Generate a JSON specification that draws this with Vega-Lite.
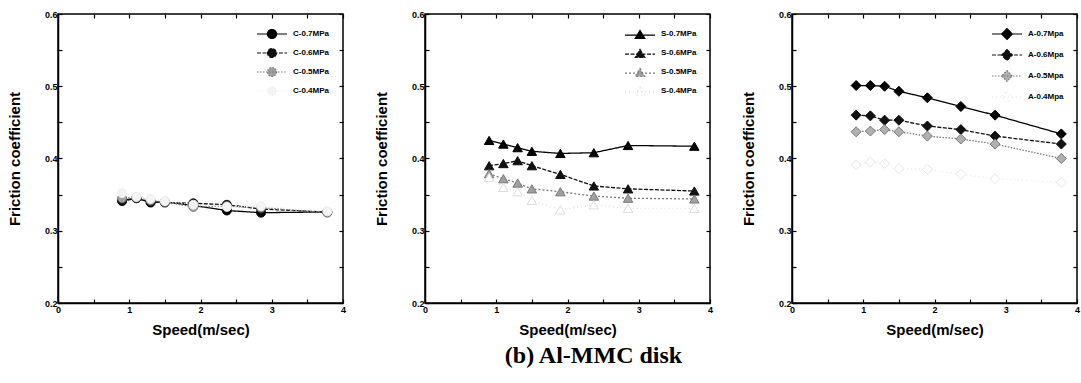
{
  "$schema": "https://vega.github.io/schema/vega-lite/v6.json",
  "padding": {"left": 6, "top": 9, "right": 0, "bottom": 0},
  "background": "white",
  "title": {"text": "(b) Al-MMC disk", "orient": "bottom", "anchor": "middle", "font": "Liberation Serif", "fontSize": 24, "fontWeight": "bold", "color": "black", "offset": 6, "dx": 50},
  "datasets": {
    "fric": [
      {"p": "C", "s": "C-0.7MPa", "v": 0.9, "f": 0.342}, {"p": "C", "s": "C-0.7MPa", "v": 1.1, "f": 0.345}, {"p": "C", "s": "C-0.7MPa", "v": 1.3, "f": 0.339}, {"p": "C", "s": "C-0.7MPa", "v": 1.5, "f": 0.340}, {"p": "C", "s": "C-0.7MPa", "v": 1.9, "f": 0.335}, {"p": "C", "s": "C-0.7MPa", "v": 2.37, "f": 0.328}, {"p": "C", "s": "C-0.7MPa", "v": 2.85, "f": 0.325}, {"p": "C", "s": "C-0.7MPa", "v": 3.78, "f": 0.326},
      {"p": "C", "s": "C-0.6MPa", "v": 0.9, "f": 0.341}, {"p": "C", "s": "C-0.6MPa", "v": 1.1, "f": 0.345}, {"p": "C", "s": "C-0.6MPa", "v": 1.3, "f": 0.340}, {"p": "C", "s": "C-0.6MPa", "v": 1.5, "f": 0.339}, {"p": "C", "s": "C-0.6MPa", "v": 1.9, "f": 0.338}, {"p": "C", "s": "C-0.6MPa", "v": 2.37, "f": 0.336}, {"p": "C", "s": "C-0.6MPa", "v": 2.85, "f": 0.330}, {"p": "C", "s": "C-0.6MPa", "v": 3.78, "f": 0.326},
      {"p": "C", "s": "C-0.5MPa", "v": 0.9, "f": 0.345}, {"p": "C", "s": "C-0.5MPa", "v": 1.1, "f": 0.346}, {"p": "C", "s": "C-0.5MPa", "v": 1.3, "f": 0.342}, {"p": "C", "s": "C-0.5MPa", "v": 1.5, "f": 0.340}, {"p": "C", "s": "C-0.5MPa", "v": 1.9, "f": 0.333}, {"p": "C", "s": "C-0.5MPa", "v": 2.37, "f": 0.334}, {"p": "C", "s": "C-0.5MPa", "v": 2.85, "f": 0.332}, {"p": "C", "s": "C-0.5MPa", "v": 3.78, "f": 0.325},
      {"p": "C", "s": "C-0.4MPa", "v": 0.9, "f": 0.352}, {"p": "C", "s": "C-0.4MPa", "v": 1.1, "f": 0.347}, {"p": "C", "s": "C-0.4MPa", "v": 1.3, "f": 0.344}, {"p": "C", "s": "C-0.4MPa", "v": 1.5, "f": 0.341}, {"p": "C", "s": "C-0.4MPa", "v": 1.9, "f": 0.336}, {"p": "C", "s": "C-0.4MPa", "v": 2.37, "f": 0.333}, {"p": "C", "s": "C-0.4MPa", "v": 2.85, "f": 0.334}, {"p": "C", "s": "C-0.4MPa", "v": 3.78, "f": 0.327},
      {"p": "S", "s": "S-0.7MPa", "v": 0.9, "f": 0.425}, {"p": "S", "s": "S-0.7MPa", "v": 1.1, "f": 0.420}, {"p": "S", "s": "S-0.7MPa", "v": 1.3, "f": 0.415}, {"p": "S", "s": "S-0.7MPa", "v": 1.5, "f": 0.410}, {"p": "S", "s": "S-0.7MPa", "v": 1.9, "f": 0.407}, {"p": "S", "s": "S-0.7MPa", "v": 2.37, "f": 0.408}, {"p": "S", "s": "S-0.7MPa", "v": 2.85, "f": 0.418}, {"p": "S", "s": "S-0.7MPa", "v": 3.78, "f": 0.417},
      {"p": "S", "s": "S-0.6MPa", "v": 0.9, "f": 0.390}, {"p": "S", "s": "S-0.6MPa", "v": 1.1, "f": 0.393}, {"p": "S", "s": "S-0.6MPa", "v": 1.3, "f": 0.397}, {"p": "S", "s": "S-0.6MPa", "v": 1.5, "f": 0.390}, {"p": "S", "s": "S-0.6MPa", "v": 1.9, "f": 0.378}, {"p": "S", "s": "S-0.6MPa", "v": 2.37, "f": 0.362}, {"p": "S", "s": "S-0.6MPa", "v": 2.85, "f": 0.358}, {"p": "S", "s": "S-0.6MPa", "v": 3.78, "f": 0.355},
      {"p": "S", "s": "S-0.5MPa", "v": 0.9, "f": 0.379}, {"p": "S", "s": "S-0.5MPa", "v": 1.1, "f": 0.372}, {"p": "S", "s": "S-0.5MPa", "v": 1.3, "f": 0.366}, {"p": "S", "s": "S-0.5MPa", "v": 1.5, "f": 0.358}, {"p": "S", "s": "S-0.5MPa", "v": 1.9, "f": 0.354}, {"p": "S", "s": "S-0.5MPa", "v": 2.37, "f": 0.348}, {"p": "S", "s": "S-0.5MPa", "v": 2.85, "f": 0.345}, {"p": "S", "s": "S-0.5MPa", "v": 3.78, "f": 0.344},
      {"p": "S", "s": "S-0.4MPa", "v": 0.9, "f": 0.374}, {"p": "S", "s": "S-0.4MPa", "v": 1.1, "f": 0.360}, {"p": "S", "s": "S-0.4MPa", "v": 1.3, "f": 0.354}, {"p": "S", "s": "S-0.4MPa", "v": 1.5, "f": 0.342}, {"p": "S", "s": "S-0.4MPa", "v": 1.9, "f": 0.329}, {"p": "S", "s": "S-0.4MPa", "v": 2.37, "f": 0.336}, {"p": "S", "s": "S-0.4MPa", "v": 2.85, "f": 0.331}, {"p": "S", "s": "S-0.4MPa", "v": 3.78, "f": 0.331},
      {"p": "A", "s": "A-0.7Mpa", "v": 0.9, "f": 0.501}, {"p": "A", "s": "A-0.7Mpa", "v": 1.1, "f": 0.501}, {"p": "A", "s": "A-0.7Mpa", "v": 1.3, "f": 0.500}, {"p": "A", "s": "A-0.7Mpa", "v": 1.5, "f": 0.493}, {"p": "A", "s": "A-0.7Mpa", "v": 1.9, "f": 0.484}, {"p": "A", "s": "A-0.7Mpa", "v": 2.37, "f": 0.472}, {"p": "A", "s": "A-0.7Mpa", "v": 2.85, "f": 0.460}, {"p": "A", "s": "A-0.7Mpa", "v": 3.78, "f": 0.434},
      {"p": "A", "s": "A-0.6Mpa", "v": 0.9, "f": 0.460}, {"p": "A", "s": "A-0.6Mpa", "v": 1.1, "f": 0.459}, {"p": "A", "s": "A-0.6Mpa", "v": 1.3, "f": 0.453}, {"p": "A", "s": "A-0.6Mpa", "v": 1.5, "f": 0.453}, {"p": "A", "s": "A-0.6Mpa", "v": 1.9, "f": 0.445}, {"p": "A", "s": "A-0.6Mpa", "v": 2.37, "f": 0.440}, {"p": "A", "s": "A-0.6Mpa", "v": 2.85, "f": 0.431}, {"p": "A", "s": "A-0.6Mpa", "v": 3.78, "f": 0.420},
      {"p": "A", "s": "A-0.5Mpa", "v": 0.9, "f": 0.437}, {"p": "A", "s": "A-0.5Mpa", "v": 1.1, "f": 0.438}, {"p": "A", "s": "A-0.5Mpa", "v": 1.3, "f": 0.440}, {"p": "A", "s": "A-0.5Mpa", "v": 1.5, "f": 0.437}, {"p": "A", "s": "A-0.5Mpa", "v": 1.9, "f": 0.431}, {"p": "A", "s": "A-0.5Mpa", "v": 2.37, "f": 0.427}, {"p": "A", "s": "A-0.5Mpa", "v": 2.85, "f": 0.420}, {"p": "A", "s": "A-0.5Mpa", "v": 3.78, "f": 0.400},
      {"p": "A", "s": "A-0.4Mpa", "v": 0.9, "f": 0.391}, {"p": "A", "s": "A-0.4Mpa", "v": 1.1, "f": 0.395}, {"p": "A", "s": "A-0.4Mpa", "v": 1.3, "f": 0.393}, {"p": "A", "s": "A-0.4Mpa", "v": 1.5, "f": 0.386}, {"p": "A", "s": "A-0.4Mpa", "v": 1.9, "f": 0.385}, {"p": "A", "s": "A-0.4Mpa", "v": 2.37, "f": 0.378}, {"p": "A", "s": "A-0.4Mpa", "v": 2.85, "f": 0.372}, {"p": "A", "s": "A-0.4Mpa", "v": 3.78, "f": 0.367}
    ]
  },
  "data": {"name": "fric"},
  "config": {
    "view": {"stroke": "black", "strokeWidth": 1.5},
    "font": "Liberation Sans",
    "axis": {
      "domainColor": "black", "domainWidth": 1.5, "tickColor": "black", "tickWidth": 1.2, "tickSize": -4,
      "grid": false, "labelFont": "Liberation Sans", "labelFontWeight": "bold", "labelFontSize": 9, "labelColor": "black",
      "titleFont": "Liberation Sans", "titleFontWeight": "bold", "titleFontSize": 15, "titleColor": "black", "labelFlush": false, "labelOverlap": false
    },
    "legend": {
      "orient": "top-right", "offset": 13, "title": null, "labelFont": "Liberation Sans", "labelFontWeight": "bold", "labelFontSize": 8, "labelColor": "black",
      "symbolSize": 144, "symbolStrokeWidth": 1.2, "labelOffset": 14, "rowPadding": 5, "padding": 0
    },
    "concat": {"spacing": 82}
  },
  "bounds": "flush",
  "resolve": {"scale": {"stroke": "independent", "fill": "independent", "strokeDash": "independent"}, "legend": {"stroke": "independent", "fill": "independent", "strokeDash": "independent"}},
  "hconcat": [
    {
      "width": 285, "height": 289,
      "transform": [{"filter": "datum.p === 'C'"}],
      "layer": [
        {
          "mark": {"type": "line", "strokeWidth": 1.3},
          "encoding": {
            "x": {"field": "v", "type": "quantitative", "scale": {"domain": [0, 4], "nice": false}, "title": "Speed(m/sec)", "axis": {"values": [0, 0.5, 1, 1.5, 2, 2.5, 3, 3.5, 4], "labelExpr": "datum.value % 1 === 0 ? format(datum.value, 'd') : ''", "labelPadding": 6, "titlePadding": 8}},
            "y": {"field": "f", "type": "quantitative", "scale": {"domain": [0.2, 0.6], "nice": false, "zero": false}, "title": "Friction coefficient", "axis": {"values": [0.2, 0.25, 0.3, 0.35, 0.4, 0.45, 0.5, 0.55, 0.6], "labelExpr": "round(datum.value * 20) % 2 === 0 ? format(datum.value, '.1f') : ''", "labelPadding": 5, "titlePadding": 22}},
            "stroke": {"field": "s", "type": "nominal", "scale": {"domain": ["C-0.7MPa", "C-0.6MPa", "C-0.5MPa", "C-0.4MPa"], "range": ["#000000", "#111111", "#7a7a7a", "#eeeeee"]}, "legend": {"symbolType": "M-2.5,0H2.5M0.75,0A0.75,0.75,0,1,1,-0.75,0A0.75,0.75,0,1,1,0.75,0Z"}},
            "strokeDash": {"field": "s", "type": "nominal", "scale": {"domain": ["C-0.7MPa", "C-0.6MPa", "C-0.5MPa", "C-0.4MPa"], "range": [[1, 0], [4, 1.5], [1.5, 1.5], [1, 2]]}, "legend": {"symbolType": "M-2.5,0H2.5M0.75,0A0.75,0.75,0,1,1,-0.75,0A0.75,0.75,0,1,1,0.75,0Z"}},
            "detail": {"field": "s"}
          }
        },
        {
          "mark": {"type": "point", "shape": "circle", "size": 80, "filled": false, "strokeWidth": 1, "opacity": 1},
          "encoding": {
            "x": {"field": "v", "type": "quantitative", "axis": {"orient": "top", "labels": false, "title": null, "values": [0, 0.5, 1, 1.5, 2, 2.5, 3, 3.5, 4], "domain": false}},
            "y": {"field": "f", "type": "quantitative", "axis": {"orient": "right", "labels": false, "title": null, "values": [0.2, 0.25, 0.3, 0.35, 0.4, 0.45, 0.5, 0.55, 0.6], "domain": false}},
            "stroke": {"field": "s", "type": "nominal"},
            "fill": {"field": "s", "type": "nominal", "scale": {"domain": ["C-0.7MPa", "C-0.6MPa", "C-0.5MPa", "C-0.4MPa"], "range": ["#000000", "#111111", "#a0a0a0", "#f4f4f4"]}, "legend": {"symbolType": "M-2.5,0H2.5M0.75,0A0.75,0.75,0,1,1,-0.75,0A0.75,0.75,0,1,1,0.75,0Z"}}
          }
        }
      ],
      "resolve": {"axis": {"x": "independent", "y": "independent"}}
    },
    {
      "width": 285, "height": 289,
      "transform": [{"filter": "datum.p === 'S'"}],
      "layer": [
        {
          "mark": {"type": "line", "strokeWidth": 1.3},
          "encoding": {
            "x": {"field": "v", "type": "quantitative", "scale": {"domain": [0, 4], "nice": false}, "title": "Speed(m/sec)", "axis": {"values": [0, 0.5, 1, 1.5, 2, 2.5, 3, 3.5, 4], "labelExpr": "datum.value % 1 === 0 ? format(datum.value, 'd') : ''", "labelPadding": 6, "titlePadding": 8}},
            "y": {"field": "f", "type": "quantitative", "scale": {"domain": [0.2, 0.6], "nice": false, "zero": false}, "title": "Friction coefficient", "axis": {"values": [0.2, 0.25, 0.3, 0.35, 0.4, 0.45, 0.5, 0.55, 0.6], "labelExpr": "round(datum.value * 20) % 2 === 0 ? format(datum.value, '.1f') : ''", "labelPadding": 5, "titlePadding": 22}},
            "stroke": {"field": "s", "type": "nominal", "scale": {"domain": ["S-0.7MPa", "S-0.6MPa", "S-0.5MPa", "S-0.4MPa"], "range": ["#000000", "#111111", "#7a7a7a", "#dddddd"]}, "legend": {"symbolType": "M-2.5,0.2H2.5M0,-0.6L0.8,0.75L-0.8,0.75Z"}},
            "strokeDash": {"field": "s", "type": "nominal", "scale": {"domain": ["S-0.7MPa", "S-0.6MPa", "S-0.5MPa", "S-0.4MPa"], "range": [[1, 0], [4, 1.5], [2, 2], [1, 3]]}, "legend": {"symbolType": "M-2.5,0.2H2.5M0,-0.6L0.8,0.75L-0.8,0.75Z"}},
            "detail": {"field": "s"}
          }
        },
        {
          "mark": {"type": "point", "shape": "triangle-up", "size": 90, "filled": false, "strokeWidth": 1, "opacity": 1},
          "encoding": {
            "x": {"field": "v", "type": "quantitative", "axis": {"orient": "top", "labels": false, "title": null, "values": [0, 0.5, 1, 1.5, 2, 2.5, 3, 3.5, 4], "domain": false}},
            "y": {"field": "f", "type": "quantitative", "axis": {"orient": "right", "labels": false, "title": null, "values": [0.2, 0.25, 0.3, 0.35, 0.4, 0.45, 0.5, 0.55, 0.6], "domain": false}},
            "stroke": {"field": "s", "type": "nominal"},
            "fill": {"field": "s", "type": "nominal", "scale": {"domain": ["S-0.7MPa", "S-0.6MPa", "S-0.5MPa", "S-0.4MPa"], "range": ["#000000", "#111111", "#a0a0a0", "#ffffff"]}, "legend": {"symbolType": "M-2.5,0.2H2.5M0,-0.6L0.8,0.75L-0.8,0.75Z"}}
          }
        }
      ],
      "resolve": {"axis": {"x": "independent", "y": "independent"}}
    },
    {
      "width": 285, "height": 289,
      "transform": [{"filter": "datum.p === 'A'"}],
      "layer": [
        {
          "mark": {"type": "line", "strokeWidth": 1.3},
          "encoding": {
            "x": {"field": "v", "type": "quantitative", "scale": {"domain": [0, 4], "nice": false}, "title": "Speed(m/sec)", "axis": {"values": [0, 0.5, 1, 1.5, 2, 2.5, 3, 3.5, 4], "labelExpr": "datum.value % 1 === 0 ? format(datum.value, 'd') : ''", "labelPadding": 6, "titlePadding": 8}},
            "y": {"field": "f", "type": "quantitative", "scale": {"domain": [0.2, 0.6], "nice": false, "zero": false}, "title": "Friction coefficient", "axis": {"values": [0.2, 0.25, 0.3, 0.35, 0.4, 0.45, 0.5, 0.55, 0.6], "labelExpr": "round(datum.value * 20) % 2 === 0 ? format(datum.value, '.1f') : ''", "labelPadding": 5, "titlePadding": 22}},
            "stroke": {"field": "s", "type": "nominal", "scale": {"domain": ["A-0.7Mpa", "A-0.6Mpa", "A-0.5Mpa", "A-0.4Mpa"], "range": ["#000000", "#111111", "#7a7a7a", "#e6e6e6"]}, "legend": {"symbolType": "M-2.5,0H2.5M0,-0.9L0.9,0L0,0.9L-0.9,0Z"}},
            "strokeDash": {"field": "s", "type": "nominal", "scale": {"domain": ["A-0.7Mpa", "A-0.6Mpa", "A-0.5Mpa", "A-0.4Mpa"], "range": [[1, 0], [4, 1.5], [1.5, 1.5], [1, 3]]}, "legend": {"symbolType": "M-2.5,0H2.5M0,-0.9L0.9,0L0,0.9L-0.9,0Z"}},
            "detail": {"field": "s"}
          }
        },
        {
          "mark": {"type": "point", "shape": "diamond", "size": 100, "filled": false, "strokeWidth": 1, "opacity": 1},
          "encoding": {
            "x": {"field": "v", "type": "quantitative", "axis": {"orient": "top", "labels": false, "title": null, "values": [0, 0.5, 1, 1.5, 2, 2.5, 3, 3.5, 4], "domain": false}},
            "y": {"field": "f", "type": "quantitative", "axis": {"orient": "right", "labels": false, "title": null, "values": [0.2, 0.25, 0.3, 0.35, 0.4, 0.45, 0.5, 0.55, 0.6], "domain": false}},
            "stroke": {"field": "s", "type": "nominal"},
            "fill": {"field": "s", "type": "nominal", "scale": {"domain": ["A-0.7Mpa", "A-0.6Mpa", "A-0.5Mpa", "A-0.4Mpa"], "range": ["#000000", "#111111", "#b0b0b0", "#ffffff"]}, "legend": {"symbolType": "M-2.5,0H2.5M0,-0.9L0.9,0L0,0.9L-0.9,0Z"}}
          }
        }
      ],
      "resolve": {"axis": {"x": "independent", "y": "independent"}}
    }
  ]
}
